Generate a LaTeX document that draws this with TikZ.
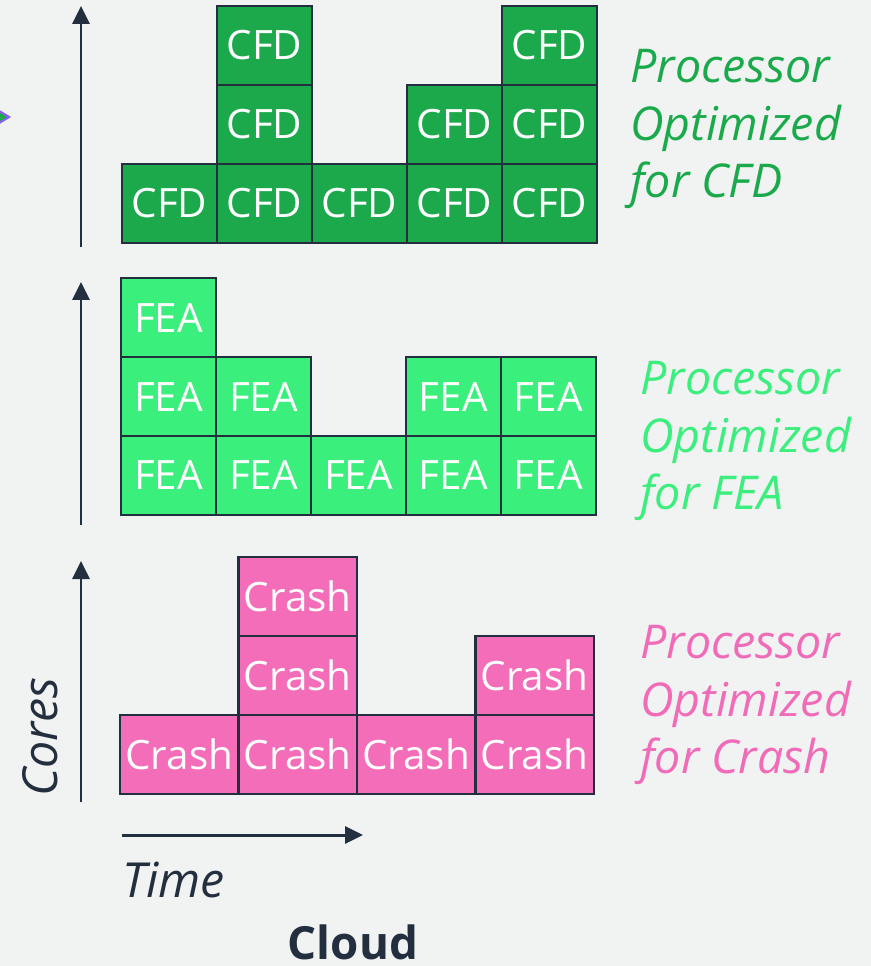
\documentclass[tikz,border=0pt]{standalone}
\usepackage{fontspec}
\setsansfont{Open Sans}
\renewcommand{\familydefault}{\sfdefault}
\usetikzlibrary{positioning,arrows.meta}

\definecolor{bgGray}{HTML}{F1F2F2}
\definecolor{inkDark}{HTML}{232F3E}
\definecolor{cfdGreen}{HTML}{1BA94C}
\definecolor{feaGreen}{HTML}{3BEF7D}
\definecolor{crashPink}{HTML}{F46DB8}
\definecolor{cfdText}{HTML}{1AAA4C}
\definecolor{feaText}{HTML}{3BEE7E}
\definecolor{crashText}{HTML}{F06BB8}
\definecolor{edgePurple}{HTML}{8A5CF6}

\begin{document}
\begin{tikzpicture}[
    x=0.02cm, y=-0.02cm,
    node distance=0pt,
    cell/.style={rectangle, draw=inkDark, line width=1.6pt, inner sep=0pt, outer sep=0pt,
        minimum width=1.9cm, minimum height=1.58cm, text=white, font=\fontsize{23}{27}\selectfont},
    cfdbox/.style={cell, fill=cfdGreen},
    feabox/.style={cell, fill=feaGreen},
    crashbox/.style={cell, fill=crashPink, minimum width=2.37cm},
    axis/.style={-{Triangle[length=0.36cm,width=0.34cm]}, line width=1.7pt, draw=inkDark},
    proclabel/.style={anchor=west, align=left, inner sep=0pt, font=\fontsize{26.5}{32.5}\selectfont\itshape},
    axislabel/.style={text=inkDark, inner sep=0pt, font=\fontsize{27.5}{32}\selectfont\itshape}
]

% Background and frame
\fill[bgGray] (0,0) rectangle (871,966);
\useasboundingbox (0,0) rectangle (871,966);
\filldraw[fill=cfdGreen, draw=edgePurple, line width=1.2pt] (-14,103) -- (9,117) -- (-14,131) -- cycle;

% CFD chart
\node[cfdbox, anchor=south west] (c11) at (122,243) {CFD};
\node[cfdbox, right=of c11] (c12) {CFD};
\node[cfdbox, right=of c12] (c13) {CFD};
\node[cfdbox, right=of c13] (c14) {CFD};
\node[cfdbox, right=of c14] (c15) {CFD};
\node[cfdbox, above=of c12] (c22) {CFD};
\node[cfdbox, above=of c14] (c24) {CFD};
\node[cfdbox, above=of c15] (c25) {CFD};
\node[cfdbox, above=of c22] (c32) {CFD};
\node[cfdbox, above=of c25] (c35) {CFD};
\node[proclabel, text=cfdText] (cfdlabel) at (630,129) {Processor\\Optimized\\for CFD};

% FEA chart
\node[feabox, anchor=south west] (f11) at (121,515) {FEA};
\node[feabox, right=of f11] (f12) {FEA};
\node[feabox, right=of f12] (f13) {FEA};
\node[feabox, right=of f13] (f14) {FEA};
\node[feabox, right=of f14] (f15) {FEA};
\node[feabox, above=of f11] (f21) {FEA};
\node[feabox, above=of f12] (f22) {FEA};
\node[feabox, above=of f14] (f24) {FEA};
\node[feabox, above=of f15] (f25) {FEA};
\node[feabox, above=of f21] (f31) {FEA};
\node[proclabel, text=feaText] (fealabel) at (640,441) {Processor\\Optimized\\for FEA};

% Crash chart
\node[crashbox, anchor=south west] (r11) at (120,794) {Crash};
\node[crashbox, right=of r11] (r12) {Crash};
\node[crashbox, right=of r12] (r13) {Crash};
\node[crashbox, right=of r13] (r14) {Crash};
\node[crashbox, above=of r12] (r22) {Crash};
\node[crashbox, above=of r14] (r24) {Crash};
\node[crashbox, above=of r22] (r32) {Crash};
\node[proclabel, text=crashText] (crashlabel) at (640,705) {Processor\\Optimized\\for Crash};

% Axes
\coordinate (cfdbase) at (81,247);
\coordinate (cfdtop) at (81,6);
\coordinate (feabase) at (81,525);
\coordinate (featop) at (81,282);
\coordinate (crashbase) at (81,802);
\coordinate (crashtop) at (81,561);
\coordinate (timestart) at (122,835);
\coordinate (timeend) at (363,835);
\draw[axis] (cfdbase) -- (cfdtop);
\draw[axis] (feabase) -- (featop);
\draw[axis] (crashbase) -- (crashtop);
\draw[axis] (timestart) -- (timeend);

\node[axislabel, rotate=90] (cores) at (40,737) {Cores};
\node[axislabel, anchor=base west] (time) at (122,897) {Time};
\node[text=inkDark, inner sep=0pt, anchor=base, font=\fontsize{26}{30}\selectfont\bfseries] (cloud) at (353,959) {Cloud};

\end{tikzpicture}
\end{document}
